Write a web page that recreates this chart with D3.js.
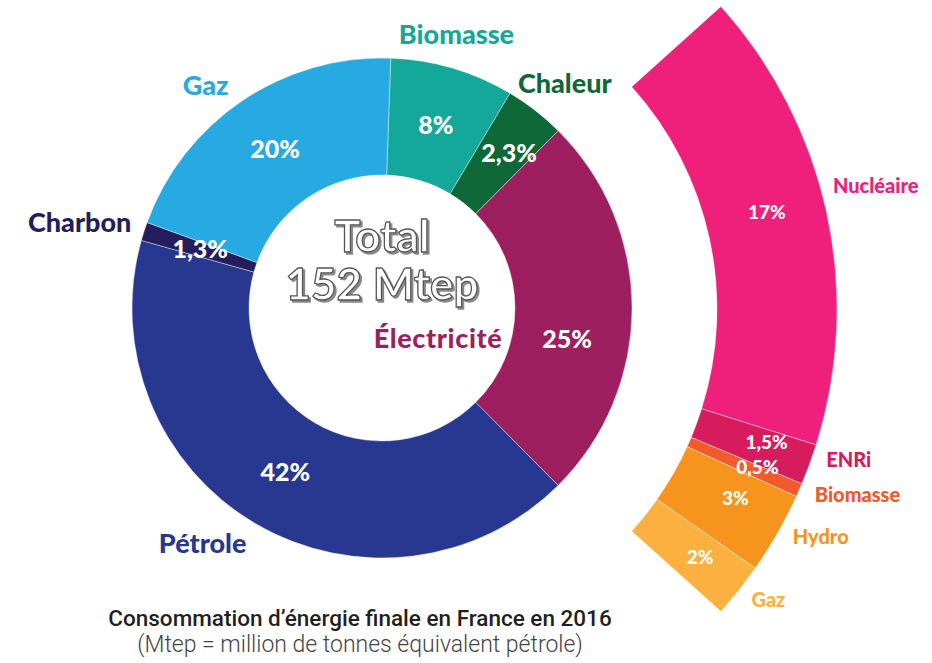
<!DOCTYPE html>
<html>
<head>
<meta charset="utf-8">
<script src="https://cdn.jsdelivr.net/npm/d3@7"></script>
<style>
  body { margin: 0; background: #fff; }
  .cat { font-family: Lato, "Noto Sans", sans-serif; font-weight: 900; }
  .pct { font-family: Lato, "Noto Sans", sans-serif; font-weight: 900; fill: #fff; }
</style>
</head>
<body>
<svg id="chart" width="932" height="663"></svg>
<script>
"use strict";

// Inner donut: final energy consumption by source (share of slice as drawn, printed label)
const mixCategories = ["Biomasse", "Chaleur", "Électricité", "Pétrole", "Charbon", "Gaz"];
const mixShares = [8, 3.9, 25.1, 41.8, 1.2, 20];
const mixLabels = ["8%", "2,3%", "25%", "42%", "1,3%", "20%"];
const mixColors = ["#14a89a", "#0f6838", "#9e1f5f", "#283891", "#241e5e", "#27aae1"];

// Outer arc: electricity broken down by origin
const elecCategories = ["Nucléaire", "ENRi", "Biomasse", "Hydro", "Gaz"];
const elecValues = [17, 1.5, 0.5, 3, 2];
const elecLabels = ["17%", "1,5%", "0,5%", "3%", "2%"];
const elecColors = ["#ee207b", "#d71c5e", "#f15a2b", "#f7941d", "#fbb040"];

const title = "Consommation d’énergie finale en France en 2016";
const subtitle = "(Mtep = million de tonnes équivalent pétrole)";
const totalLines = ["Total", "152 Mtep"];

const deg = Math.PI / 180;
const svg = d3.select("#chart");

// drop shadow for the centre text
svg.append("defs").append("filter")
    .attr("id", "shadow")
    .attr("x", "-10%").attr("y", "-10%")
    .attr("width", "130%").attr("height", "130%")
    .append("feDropShadow")
    .attr("dx", 2).attr("dy", 2)
    .attr("stdDeviation", 0.3)
    .attr("flood-color", "#8a8a8a")
    .attr("flood-opacity", 1);

// label nudges [dx, dy] from the computed anchor point
const mixPctNudge = [[0, 0], [10, -4], [-6, 31], [0, 0], [0, 0], [0, 0]];
// order: Biomasse, Chaleur, Pétrole, Charbon, Gaz
const mixCatNudge = [[-6, 0], [8, 1], [-35, -10], [-31, 2], [-17, 14]];
const elecPctNudge = [[-9, -12], [6, -4], [6, -2], [3, -9], [2, -1]];
const elecCatNudge = [[7, -18], [-1, -19], [19, -12], [6, -18], [-4, -17]];

// 1. Inner donut
const donut = svg.append("g").attr("transform", "translate(382,308)");
const mixPie = d3.pie().sort(null).value(d => d)
    .startAngle(2 * deg).endAngle(362 * deg);
const mixArcs = mixPie(mixShares);
const arc = d3.arc().innerRadius(133).outerRadius(250);
const mixLabelArc = d3.arc().innerRadius(191).outerRadius(191);
const mixCatArc = d3.arc().innerRadius(285).outerRadius(285);

donut.selectAll("path")
    .data(mixArcs)
    .enter()
    .append("path")
    .attr("d", arc)
    .attr("fill", (d, i) => mixColors[i])
    .attr("stroke", "#fff")
    .attr("stroke-width", 0.4);

donut.selectAll("text.pct")
    .data(mixArcs)
    .enter()
    .append("text")
    .attr("class", "pct")
    .attr("x", (d, i) => mixLabelArc.centroid(d)[0] + mixPctNudge[i][0])
    .attr("y", (d, i) => mixLabelArc.centroid(d)[1] + mixPctNudge[i][1])
    .attr("dy", "0.35em")
    .attr("text-anchor", "middle")
    .style("font-size", "25px")
    .text((d, i) => mixLabels[i]);

// category names around the ring (Électricité sits inside the hole)
const outerIdx = [0, 1, 3, 4, 5];
donut.selectAll("text.cat")
    .data(outerIdx)
    .enter()
    .append("text")
    .attr("class", "cat")
    .attr("x", (i, k) => mixCatArc.centroid(mixArcs[i])[0] + mixCatNudge[k][0])
    .attr("y", (i, k) => mixCatArc.centroid(mixArcs[i])[1] + mixCatNudge[k][1])
    .attr("dy", "0.35em")
    .attr("text-anchor", "middle")
    .style("font-size", "27px")
    .attr("fill", i => mixColors[i])
    .text(i => mixCategories[i]);

donut.append("text")
    .attr("class", "cat")
    .attr("x", 56)
    .attr("y", 40)
    .attr("text-anchor", "middle")
    .style("font-size", "27px")
    .style("letter-spacing", "0.6px")
    .attr("fill", mixColors[2])
    .text(mixCategories[2]);

// Total in the centre: outlined white text with a grey shadow
donut.append("text")
    .attr("class", "cat")
    .attr("text-anchor", "middle")
    .attr("filter", "url(#shadow)")
    .style("font-size", "44px")
    .style("font-weight", 700)
    .attr("fill", "#fff")
    .attr("stroke", "#555")
    .attr("stroke-width", 1.3)
    .selectAll("tspan")
    .data(totalLines)
    .enter()
    .append("tspan")
    .attr("x", 0)
    .attr("y", (d, i) => i === 0 ? -56 : -8)
    .text(d => d);

// 2. Outer arc for electricity
const ring = svg.append("g").attr("transform", "translate(385,309)");
const elecPie = d3.pie().sort(null).value(d => d)
    .startAngle(48 * deg).endAngle(132 * deg);
const elecArcs = elecPie(elecValues);
const ringArc = d3.arc().innerRadius(332).outerRadius(452);
const ringLabelArc = d3.arc().innerRadius(400).outerRadius(400);
const ringCatArc = d3.arc().innerRadius(495).outerRadius(495);

ring.selectAll("path")
    .data(elecArcs)
    .enter()
    .append("path")
    .attr("d", ringArc)
    .attr("fill", (d, i) => elecColors[i])
    .attr("stroke", "#fff")
    .attr("stroke-width", 0.4);

ring.selectAll("text.pct")
    .data(elecArcs)
    .enter()
    .append("text")
    .attr("class", "pct")
    .attr("x", (d, i) => ringLabelArc.centroid(d)[0] + elecPctNudge[i][0])
    .attr("y", (d, i) => ringLabelArc.centroid(d)[1] + elecPctNudge[i][1])
    .attr("dy", "0.35em")
    .attr("text-anchor", "middle")
    .style("font-size", "19px")
    .text((d, i) => elecLabels[i]);

ring.selectAll("text.cat")
    .data(elecArcs)
    .enter()
    .append("text")
    .attr("class", "cat")
    .attr("x", (d, i) => ringCatArc.centroid(d)[0] + elecCatNudge[i][0])
    .attr("y", (d, i) => ringCatArc.centroid(d)[1] + elecCatNudge[i][1])
    .attr("dy", "0.35em")
    .attr("text-anchor", "middle")
    .style("font-size", "20px")
    .attr("fill", (d, i) => elecColors[i])
    .text((d, i) => elecCategories[i]);

// 3. Caption
svg.append("text")
    .attr("x", 360).attr("y", 626)
    .attr("text-anchor", "middle")
    .style("font-family", "Roboto, sans-serif")
    .style("font-weight", 500)
    .style("font-size", "22.5px")
    .attr("fill", "#231f20")
    .text(title);

svg.append("text")
    .attr("x", 360).attr("y", 652)
    .attr("text-anchor", "middle")
    .style("font-family", "Roboto, sans-serif")
    .style("font-weight", 300)
    .style("font-size", "23px")
    .attr("fill", "#444")
    .text(subtitle);
</script>
</body>
</html>
